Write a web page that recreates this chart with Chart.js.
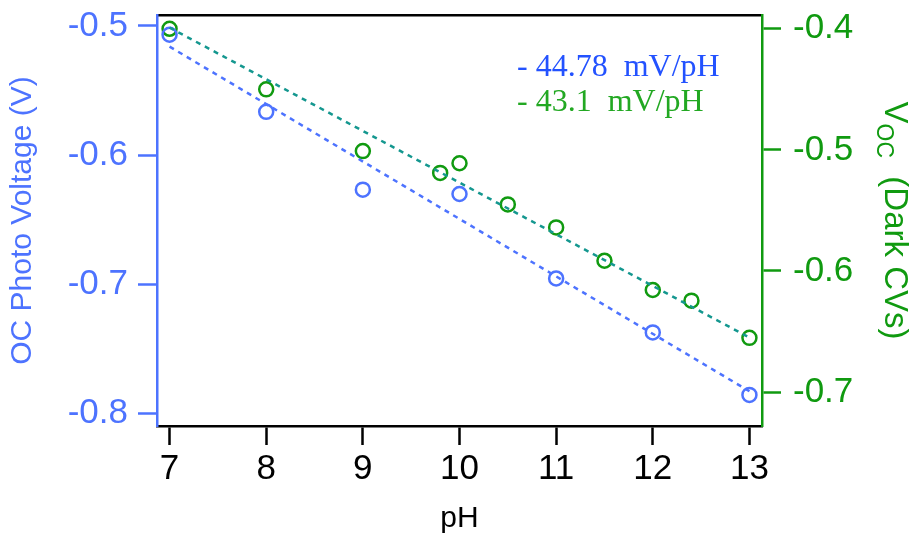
<!DOCTYPE html>
<html>
<head>
<meta charset="utf-8">
<script src="https://cdn.jsdelivr.net/npm/chart.js@4"></script>
<style>
  html, body { margin: 0; padding: 0; background: #fff; }
  #wrap { width: 917px; height: 537px; }
</style>
</head>
<body>
<div id="wrap"><canvas id="grafico" width="917" height="537"></canvas></div>
<script>
// valores
const phFoto = [7, 8, 9, 10, 11, 12, 13];
const vocFoto = [-0.5068, -0.5665, -0.6268, -0.6302, -0.6956, -0.7374, -0.7858];
const phOscuro = [7, 8, 9, 9.8, 10, 10.5, 11, 11.5, 12, 12.4, 13];
const vocOscuro = [-0.400, -0.450, -0.501, -0.519, -0.511, -0.545, -0.564, -0.5915, -0.6157, -0.6245, -0.6552];
const phAjuste = [7, 13];
const ajusteFoto = [-0.516, -0.783];
const ajusteOscuro = [-0.399, -0.655];

const ticksX = [7, 8, 9, 10, 11, 12, 13];
const ticksIzq = [-0.5, -0.6, -0.7, -0.8];
const ticksDer = [-0.4, -0.5, -0.6, -0.7];
const textosPendiente = ['- 44.78  mV/pH', '- 43.1  mV/pH'];

const AZUL = '#4d73ff';
const AZUL_TXT = '#2352ff';
const VERDE = '#109a10';
const VERDE_TXT = '#22a822';
const TEAL = '#14978f';

function puntos(xs, ys) {
    return xs.map((x, i) => ({ x: x, y: ys[i] }));
}

function fijarTicks(valores) {
    return function (scale) {
        scale.ticks = valores.map(v => ({ value: v }));
    };
}

// sin relleno extra por etiquetas que sobresalen
function sinRelleno(scale) {
    scale.paddingTop = 0;
    scale.paddingBottom = 0;
    scale.paddingLeft = 0;
    scale.paddingRight = 0;
}

// titulo derecho con subindice y textos de pendiente
const textosExtra = {
    id: 'textosExtra',
    afterDraw(chart) {
        const ctx = chart.ctx;
        const area = chart.chartArea;

        ctx.save();
        ctx.font = '32px "Liberation Serif"';
        ctx.textBaseline = 'alphabetic';
        ctx.textAlign = 'left';
        ctx.fillStyle = AZUL_TXT;
        ctx.fillText(textosPendiente[0], 517, 76);
        ctx.fillStyle = VERDE_TXT;
        ctx.fillText(textosPendiente[1], 517, 111);
        ctx.restore();

        const cy = (area.top + area.bottom) / 2;
        ctx.save();
        ctx.translate(885, cy);
        ctx.rotate(Math.PI / 2);
        ctx.fillStyle = VERDE;
        ctx.textBaseline = 'alphabetic';
        ctx.textAlign = 'left';
        const fGrande = '33px "Liberation Sans"';
        const fChica = '23px "Liberation Sans"';
        ctx.font = fGrande;
        const wV = ctx.measureText('V').width;
        const wResto = ctx.measureText('  (Dark CVs)').width;
        ctx.font = fChica;
        const wSub = ctx.measureText('OC').width;
        let x = -(wV + wSub + wResto) / 2;
        ctx.font = fGrande;
        ctx.fillText('V', x, 0);
        x += wV;
        ctx.font = fChica;
        ctx.fillText('OC', x, 8);
        x += wSub;
        ctx.font = fGrande;
        ctx.fillText('  (Dark CVs)', x, 0);
        ctx.restore();
    }
};

const ctx = document.getElementById('grafico').getContext('2d');
new Chart(ctx, {
    type: 'scatter',
    data: {
        datasets: [
            {
                label: 'ajuste foto',
                data: puntos(phAjuste, ajusteFoto),
                yAxisID: 'y',
                showLine: true,
                borderColor: AZUL,
                borderWidth: 2.5,
                borderDash: [5, 5],
                pointRadius: 0
            },
            {
                label: 'ajuste oscuro',
                data: puntos(phAjuste, ajusteOscuro),
                yAxisID: 'y2',
                showLine: true,
                borderColor: TEAL,
                borderWidth: 2.5,
                borderDash: [5, 5],
                pointRadius: 0
            },
            {
                label: 'OC Photo Voltage',
                data: puntos(phFoto, vocFoto),
                yAxisID: 'y',
                borderColor: AZUL,
                backgroundColor: 'rgba(0,0,0,0)',
                pointRadius: 7,
                pointBorderWidth: 2.5
            },
            {
                label: 'Voc Dark CVs',
                data: puntos(phOscuro, vocOscuro),
                yAxisID: 'y2',
                borderColor: VERDE,
                backgroundColor: 'rgba(0,0,0,0)',
                pointRadius: 7,
                pointBorderWidth: 2.5
            }
        ]
    },
    options: {
        responsive: false,
        animation: false,
        layout: { padding: 0 },
        plugins: {
            legend: { display: false },
            tooltip: { enabled: false }
        },
        scales: {
            x: {
                type: 'linear',
                position: 'bottom',
                min: 6.87,
                max: 13.13,
                afterBuildTicks: fijarTicks(ticksX),
                afterFit(scale) { scale.height = 111; sinRelleno(scale); },
                grid: { drawOnChartArea: false, drawTicks: true, tickLength: 19, tickWidth: 2.5, color: '#000' },
                border: { color: '#000', width: 2.5 },
                ticks: {
                    color: '#000',
                    font: { family: 'Liberation Sans', size: 35 },
                    padding: 3,
                    maxRotation: 0,
                    callback: v => String(v)
                },
                title: {
                    display: true,
                    text: 'pH',
                    color: '#000',
                    font: { family: 'Liberation Sans', size: 30 },
                    padding: { top: 0, bottom: 0 }
                }
            },
            xTop: {
                type: 'linear',
                position: 'top',
                min: 6.87,
                max: 13.13,
                afterFit(scale) { scale.height = 15; sinRelleno(scale); },
                grid: { drawOnChartArea: false, drawTicks: false },
                border: { color: '#000', width: 2.5 },
                ticks: { display: false }
            },
            y: {
                type: 'linear',
                position: 'left',
                min: -0.8099,
                max: -0.4915,
                afterBuildTicks: fijarTicks(ticksIzq),
                afterFit(scale) { scale.width = 157; sinRelleno(scale); },
                grid: { drawOnChartArea: false, drawTicks: true, tickLength: 19, tickWidth: 2.5, color: AZUL },
                border: { color: AZUL, width: 2.5 },
                ticks: {
                    color: AZUL,
                    font: { family: 'Liberation Sans', size: 35 },
                    padding: 10,
                    callback: v => v.toFixed(1)
                },
                title: {
                    display: true,
                    text: 'OC Photo Voltage (V)',
                    color: AZUL,
                    font: { family: 'Liberation Sans', size: 30 },
                    padding: { top: 5, bottom: 0 }
                }
            },
            y2: {
                type: 'linear',
                position: 'right',
                min: -0.728,
                max: -0.3886,
                afterBuildTicks: fijarTicks(ticksDer),
                afterFit(scale) { scale.width = 155; sinRelleno(scale); },
                grid: { drawOnChartArea: false, drawTicks: true, tickLength: 19, tickWidth: 2.5, color: VERDE },
                border: { color: VERDE, width: 2.5 },
                ticks: {
                    color: VERDE,
                    font: { family: 'Liberation Sans', size: 35 },
                    padding: 12,
                    callback: v => v.toFixed(1)
                },
                title: { display: false }
            }
        }
    },
    plugins: [textosExtra]
});
</script>
</body>
</html>
